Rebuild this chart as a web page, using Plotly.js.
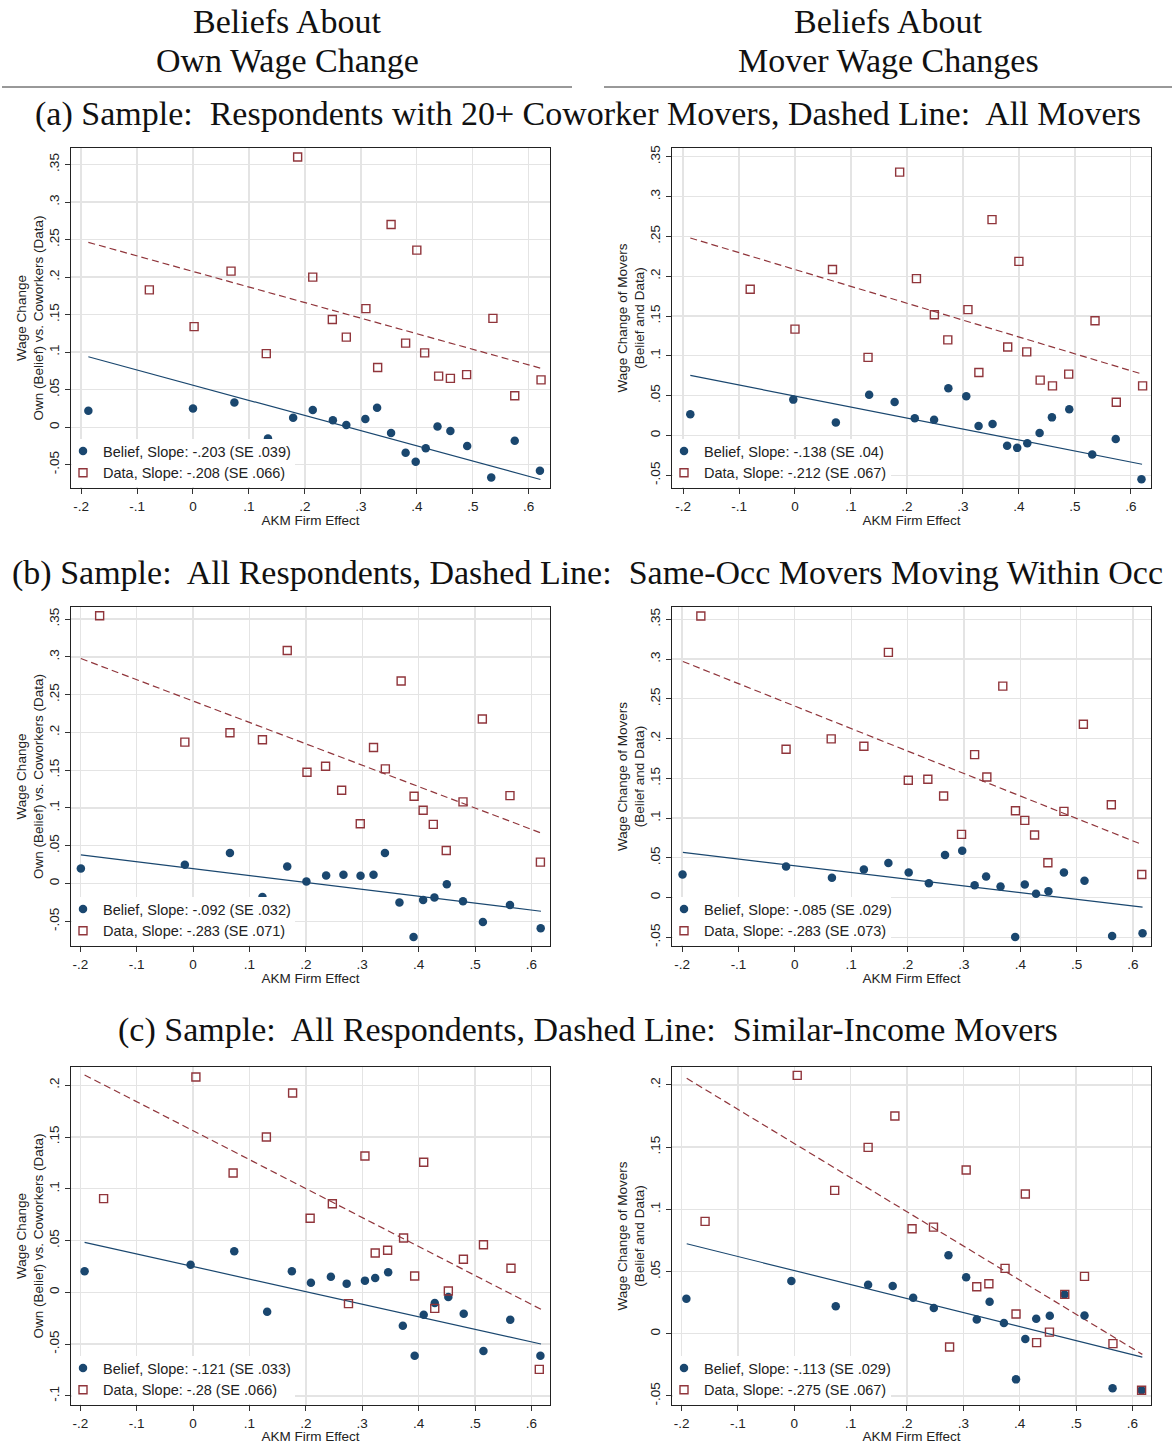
<!DOCTYPE html>
<html><head><meta charset="utf-8">
<script src="https://cdn.plot.ly/plotly-3.0.1.min.js"></script>
<style>body{margin:0;background:#fff}#chart{width:1174px;height:1444px}</style>
</head><body><div id="chart"></div><script>
// ---------- DATA ----------
// Panel (a) left: own wage change, 20+ coworker movers
const aL_xBelief = [-0.187, 0.000, 0.074, 0.134, 0.179, 0.214, 0.250, 0.274, 0.308, 0.329, 0.354, 0.380, 0.398, 0.416, 0.437, 0.460, 0.490, 0.533, 0.575, 0.620];
const aL_yBelief = [0.022, 0.025, 0.033, -0.015, 0.0125, 0.023, 0.0094, 0.003, 0.011, 0.026, -0.0076, -0.034, -0.046, -0.028, 0.001, -0.005, -0.025, -0.067, -0.018, -0.058];
const aL_xData = [-0.078, 0.002, 0.068, 0.131, 0.187, 0.214, 0.249, 0.274, 0.309, 0.330, 0.354, 0.380, 0.400, 0.414, 0.439, 0.460, 0.489, 0.536, 0.575, 0.622];
const aL_yData = [0.183, 0.134, 0.208, 0.098, 0.360, 0.200, 0.1435, 0.120, 0.158, 0.0796, 0.270, 0.112, 0.236, 0.099, 0.068, 0.065, 0.070, 0.145, 0.042, 0.063];
const aL_fitX = [-0.187, 0.621];
const aL_fitBelief = [0.0939, -0.0697];
const aL_fitData = [0.2463, 0.0787];
const aL_legend = ["Belief, Slope: -.203 (SE .039)", "Data, Slope: -.208 (SE .066)"];

// Panel (a) right: mover wage changes, 20+ coworker movers
const aR_xBelief = [-0.187, -0.003, 0.073, 0.1325, 0.178, 0.214, 0.2485, 0.274, 0.306, 0.328, 0.353, 0.379, 0.397, 0.415, 0.437, 0.459, 0.490, 0.531, 0.573, 0.619];
const aR_yBelief = [0.0265, 0.045, 0.0164, 0.051, 0.042, 0.0215, 0.0198, 0.0594, 0.0493, 0.0118, 0.0143, -0.013, -0.0156, -0.0097, 0.003, 0.0227, 0.0329, -0.024, -0.0046, -0.055];
const aR_xData = [-0.080, 0.000, 0.067, 0.1305, 0.187, 0.217, 0.249, 0.273, 0.309, 0.3285, 0.352, 0.380, 0.400, 0.414, 0.438, 0.460, 0.489, 0.536, 0.574, 0.621];
const aR_yData = [0.1837, 0.1335, 0.2085, 0.098, 0.3307, 0.197, 0.1516, 0.120, 0.158, 0.079, 0.271, 0.111, 0.2186, 0.105, 0.0695, 0.0623, 0.077, 0.144, 0.0417, 0.0623];
const aR_fitX = [-0.187, 0.620];
const aR_fitBelief = [0.0754, -0.0362];
const aR_fitData = [0.248, 0.0771];
const aR_legend = ["Belief, Slope: -.138 (SE .04)", "Data, Slope: -.212 (SE .067)"];

// Panel (b) left
const bL_xBelief = [-0.199, -0.0146, 0.0654, 0.123, 0.167, 0.201, 0.236, 0.2667, 0.297, 0.320, 0.3403, 0.366, 0.391, 0.408, 0.428, 0.450, 0.4787, 0.514, 0.562, 0.6165];
const bL_yBelief = [0.0199, 0.0248, 0.0403, -0.018, 0.0226, 0.0027, 0.0106, 0.0115, 0.0102, 0.0115, 0.0403, -0.0252, -0.0708, -0.0217, -0.0186, -0.0009, -0.0235, -0.0509, -0.0283, -0.0593];
const bL_xData = [-0.1657, -0.0146, 0.0654, 0.123, 0.167, 0.202, 0.235, 0.2635, 0.2965, 0.320, 0.341, 0.369, 0.392, 0.408, 0.426, 0.449, 0.4787, 0.513, 0.562, 0.616];
const bL_yData = [0.3544, 0.1872, 0.1996, 0.1903, 0.3084, 0.1473, 0.1553, 0.1235, 0.0792, 0.180, 0.1518, 0.268, 0.1155, 0.0969, 0.0783, 0.0438, 0.108, 0.2177, 0.1164, 0.0283];
const bL_fitX = [-0.199, 0.617];
const bL_fitBelief = [0.038, -0.0367];
const bL_fitData = [0.2978, 0.0669];
const bL_legend = ["Belief, Slope: -.092 (SE .032)", "Data, Slope: -.283 (SE .071)"];

// Panel (b) right
const bR_xBelief = [-0.1993, -0.0156, 0.0658, 0.1225, 0.166, 0.202, 0.2378, 0.2665, 0.297, 0.319, 0.3394, 0.365, 0.391, 0.408, 0.428, 0.450, 0.4775, 0.514, 0.563, 0.617];
const bR_yBelief = [0.029, 0.039, 0.0248, 0.0353, 0.0433, 0.0315, 0.018, 0.0534, 0.0588, 0.0155, 0.0265, 0.0139, -0.0496, 0.0164, 0.0046, 0.008, 0.0315, 0.021, -0.0483, -0.045];
const bR_xData = [-0.1668, -0.0156, 0.0645, 0.1225, 0.166, 0.2013, 0.236, 0.264, 0.2958, 0.319, 0.3407, 0.369, 0.3915, 0.408, 0.4254, 0.449, 0.4775, 0.512, 0.5616, 0.6156];
const bR_yData = [0.3542, 0.1866, 0.1996, 0.1903, 0.3084, 0.1475, 0.1487, 0.1277, 0.0794, 0.1798, 0.1517, 0.266, 0.1092, 0.097, 0.0786, 0.0437, 0.1084, 0.218, 0.1168, 0.029];
const bR_fitX = [-0.1987, 0.617];
const bR_fitBelief = [0.0567, -0.0122];
const bR_fitData = [0.297, 0.0664];
const bR_legend = ["Belief, Slope: -.085 (SE .029)", "Data, Slope: -.283 (SE .073)"];

// Panel (c) left
const cL_xBelief = [-0.1924, -0.0044, 0.073, 0.1314, 0.1752, 0.209, 0.2444, 0.2724, 0.3048, 0.323, 0.346, 0.372, 0.393, 0.409, 0.4286, 0.4527, 0.480, 0.515, 0.5625, 0.616];
const cL_yBelief = [0.0203, 0.0267, 0.0396, -0.0187, 0.0203, 0.0093, 0.0151, 0.0084, 0.0113, 0.0138, 0.0193, -0.0322, -0.0612, -0.0216, -0.0103, -0.0045, -0.0206, -0.0567, -0.0264, -0.0612];
const cL_xData = [-0.1587, 0.005, 0.071, 0.130, 0.1765, 0.2076, 0.247, 0.2756, 0.3048, 0.323, 0.345, 0.3733, 0.393, 0.409, 0.4286, 0.4527, 0.4794, 0.515, 0.5638, 0.614];
const cL_yData = [0.0905, 0.208, 0.1153, 0.150, 0.1925, 0.0715, 0.0856, -0.0109, 0.1317, 0.038, 0.0406, 0.0525, 0.0158, 0.1256, -0.0155, 0.0013, 0.0319, 0.046, 0.0232, -0.0744];
const cL_fitX = [-0.1924, 0.617];
const cL_fitBelief = [0.0483, -0.0499];
const cL_fitData = [0.2099, -0.0164];
const cL_legend = ["Belief, Slope: -.121 (SE .033)", "Data, Slope: -.28 (SE .066)"];

// Panel (c) right
const cR_xBelief = [-0.1915, -0.0052, 0.0736, 0.131, 0.1746, 0.211, 0.2476, 0.2736, 0.305, 0.3238, 0.3466, 0.372, 0.3935, 0.410, 0.4293, 0.4534, 0.4795, 0.515, 0.5648, 0.6163];
const cR_yBelief = [0.0281, 0.0423, 0.022, 0.0394, 0.0383, 0.0289, 0.0206, 0.063, 0.0453, 0.0115, 0.0257, 0.0086, -0.0367, -0.0043, 0.012, 0.0145, 0.0316, 0.0147, -0.0439, -0.0455];
const cR_xData = [-0.1583, 0.0052, 0.0717, 0.131, 0.1785, 0.209, 0.247, 0.2756, 0.305, 0.3238, 0.3453, 0.374, 0.3935, 0.410, 0.430, 0.4528, 0.480, 0.515, 0.5655, 0.6163];
const cR_yData = [0.0903, 0.2077, 0.1152, 0.1498, 0.175, 0.0844, 0.0857, -0.0107, 0.1316, 0.0378, 0.0402, 0.0525, 0.0158, 0.1123, -0.0072, 0.0013, 0.0316, 0.0461, -0.008, -0.0455];
const cR_fitX = [-0.1909, 0.6176];
const cR_fitBelief = [0.0723, -0.0188];
const cR_fitData = [0.2053, -0.0166];
const cR_legend = ["Belief, Slope: -.113 (SE .029)", "Data, Slope: -.275 (SE .067)"];

// Tick labels
const xTickVals = [-0.2, -0.1, 0, 0.1, 0.2, 0.3, 0.4, 0.5, 0.6];
const xTickText = ["-.2", "-.1", "0", ".1", ".2", ".3", ".4", ".5", ".6"];
const yTickValsAB = [-0.05, 0, 0.05, 0.1, 0.15, 0.2, 0.25, 0.3, 0.35];
const yTickTextAB = ["-.05", "0", ".05", ".1", ".15", ".2", ".25", ".3", ".35"];
const yTickValsCL = [-0.1, -0.05, 0, 0.05, 0.1, 0.15, 0.2];
const yTickTextCL = ["-.1", "-.05", "0", ".05", ".1", ".15", ".2"];
const yTickValsCR = [-0.05, 0, 0.05, 0.1, 0.15, 0.2];
const yTickTextCR = ["-.05", "0", ".05", ".1", ".15", ".2"];

// Text
const headerLeft = ["Beliefs About", "Own Wage Change"];
const headerRight = ["Beliefs About", "Mover Wage Changes"];
const panelTitles = [
  "(a) Sample:  Respondents with 20+ Coworker Movers, Dashed Line:  All Movers",
  "(b) Sample:  All Respondents, Dashed Line:  Same-Occ Movers Moving Within Occ",
  "(c) Sample:  All Respondents, Dashed Line:  Similar-Income Movers"
];
const yTitleLeft = "Wage Change<br>Own (Belief) vs. Coworkers (Data)";
const yTitleRight = "Wage Change of Movers<br>(Belief and Data)";
const xTitle = "AKM Firm Effect";

// ---------- LAYOUT / STYLE ----------
const W = 1174, H = 1444;
const NAVY = '#1a476f', MAROON = '#90353b';
const px = v => v / W;
const py = v => 1 - v / H;

const panels = [
  {xb: aL_xBelief, yb: aL_yBelief, xd: aL_xData, yd: aL_yData, fx: aL_fitX, fb: aL_fitBelief, fd: aL_fitData, leg: aL_legend,
   col: 0, row: 0, xr: [-0.218, 0.638], yr: [-0.081, 0.372], yt: [yTickValsAB, yTickTextAB], ytitle: yTitleLeft},
  {xb: aR_xBelief, yb: aR_yBelief, xd: aR_xData, yd: aR_yData, fx: aR_fitX, fb: aR_fitBelief, fd: aR_fitData, leg: aR_legend,
   col: 1, row: 0, xr: [-0.2197, 0.636], yr: [-0.066, 0.361], yt: [yTickValsAB, yTickTextAB], ytitle: yTitleRight},
  {xb: bL_xBelief, yb: bL_yBelief, xd: bL_xData, yd: bL_yData, fx: bL_fitX, fb: bL_fitBelief, fd: bL_fitData, leg: bL_legend,
   col: 0, row: 1, xr: [-0.2165, 0.633], yr: [-0.0827, 0.366], yt: [yTickValsAB, yTickTextAB], ytitle: yTitleLeft},
  {xb: bR_xBelief, yb: bR_yBelief, xd: bR_xData, yd: bR_yData, fx: bR_fitX, fb: bR_fitBelief, fd: bR_fitData, leg: bR_legend,
   col: 1, row: 1, xr: [-0.218, 0.632], yr: [-0.061, 0.3655], yt: [yTickValsAB, yTickTextAB], ytitle: yTitleRight},
  {xb: cL_xBelief, yb: cL_yBelief, xd: cL_xData, yd: cL_yData, fx: cL_fitX, fb: cL_fitBelief, fd: cL_fitData, leg: cL_legend,
   col: 0, row: 2, xr: [-0.2165, 0.633], yr: [-0.1088, 0.2176], yt: [yTickValsCL, yTickTextCL], ytitle: yTitleLeft},
  {xb: cR_xBelief, yb: cR_yBelief, xd: cR_xData, yd: cR_yData, fx: cR_fitX, fb: cR_fitBelief, fd: cR_fitData, leg: cR_legend,
   col: 1, row: 2, xr: [-0.217, 0.633], yr: [-0.0573, 0.2144], yt: [yTickValsCR, yTickTextCR], ytitle: yTitleRight}
];

const colX = [[71, 550], [672, 1151]];
const rowY = [[148, 488], [607, 946], [1067, 1405]];
const legendBoxW = [224, 219];

const tickFont = {family: 'Liberation Sans, Arial, sans-serif', size: 13.5, color: '#222'};
const titleFont = {family: 'Liberation Sans, Arial, sans-serif', size: 13.5, color: '#222'};

const traces = [];
const layout = {
  width: W, height: H, margin: {l: 0, r: 0, t: 0, b: 0},
  paper_bgcolor: '#fff', plot_bgcolor: '#fff', showlegend: true,
  annotations: [], shapes: []
};

panels.forEach((p, i) => {
  const n = i + 1;
  const xa = n === 1 ? 'x' : 'x' + n, ya = n === 1 ? 'y' : 'y' + n;
  const xk = n === 1 ? 'xaxis' : 'xaxis' + n, yk = n === 1 ? 'yaxis' : 'yaxis' + n;
  const lk = n === 1 ? 'legend' : 'legend' + n;
  const [x0, x1] = colX[p.col], [y0, y1] = rowY[p.row];

  layout[xk] = {
    domain: [px(x0), px(x1)], range: p.xr, anchor: ya,
    tickvals: xTickVals, ticktext: xTickText, tickfont: tickFont,
    ticks: 'outside', ticklen: 5, tickwidth: 1, tickcolor: '#333',
    showgrid: true, gridcolor: '#e4e4e4', gridwidth: 1.3, zeroline: false,
    showline: true, mirror: true, linecolor: '#222', linewidth: 1.3,
    title: {text: xTitle, font: titleFont, standoff: 2}, automargin: false
  };
  layout[yk] = {
    domain: [py(y1), py(y0)], range: p.yr, anchor: xa,
    tickvals: p.yt[0], ticktext: p.yt[1], tickfont: tickFont, tickangle: -90,
    ticks: 'outside', ticklen: 5, tickwidth: 1, tickcolor: '#333',
    showgrid: true, gridcolor: '#e4e4e4', gridwidth: 1.3, zeroline: false,
    showline: true, mirror: true, linecolor: '#222', linewidth: 1.3,
    title: {text: p.ytitle, font: titleFont, standoff: 0}, automargin: false
  };
  // white legend box (covers grid and marks like the original)
  layout.shapes.push({type: 'rect', xref: 'paper', yref: 'paper', layer: 'above',
    x0: px(x0 + 1), x1: px(x0 + legendBoxW[p.col]), y0: py(y1 - 1), y1: py(y1 - 49),
    fillcolor: '#fff', line: {width: 0}});
  layout[lk] = {
    x: px(x0 - 8), y: py(y1 + 1), xanchor: 'left', yanchor: 'bottom',
    bgcolor: 'rgba(0,0,0,0)', borderwidth: 0, tracegroupgap: 0,
    font: {family: 'Liberation Sans, Arial, sans-serif', size: 14.5, color: '#222'}
  };

  traces.push({x: p.fx, y: p.fb, xaxis: xa, yaxis: ya, mode: 'lines', showlegend: false,
    line: {color: NAVY, width: 1.2}, hoverinfo: 'skip'});
  traces.push({x: p.fx, y: p.fd, xaxis: xa, yaxis: ya, mode: 'lines', showlegend: false,
    line: {color: MAROON, width: 1.2, dash: '7px,4px'}, hoverinfo: 'skip'});
  traces.push({x: p.xb, y: p.yb, xaxis: xa, yaxis: ya, mode: 'markers', name: p.leg[0], legend: lk,
    marker: {symbol: 'circle', size: 8.5, color: NAVY, line: {width: 0}}});
  traces.push({x: p.xd, y: p.yd, xaxis: xa, yaxis: ya, mode: 'markers', name: p.leg[1], legend: lk,
    marker: {symbol: 'square-open', size: 8, color: MAROON, line: {width: 1.4, color: MAROON}}});
});

const serif = {family: 'Liberation Serif, Times New Roman, serif', size: 34, color: '#111'};
const ann = (text, x, y) => ({text, x: px(x), y: py(y), xref: 'paper', yref: 'paper', showarrow: false,
  xanchor: 'center', yanchor: 'middle', font: serif});
layout.annotations.push(
  ann(headerLeft[0], 287, 22), ann(headerLeft[1], 287, 60),
  ann(headerRight[0], 888, 22), ann(headerRight[1], 888, 60),
  ann(panelTitles[0], 588, 114), ann(panelTitles[1], 588, 573), ann(panelTitles[2], 588, 1030)
);
layout.shapes.push(
  {type: 'line', xref: 'paper', yref: 'paper', x0: px(2), x1: px(572), y0: py(87), y1: py(87), line: {color: '#333', width: 1}},
  {type: 'line', xref: 'paper', yref: 'paper', x0: px(604), x1: px(1172), y0: py(87), y1: py(87), line: {color: '#333', width: 1}}
);

Plotly.newPlot('chart', traces, layout, {staticPlot: true, displayModeBar: false});
</script></body></html>
